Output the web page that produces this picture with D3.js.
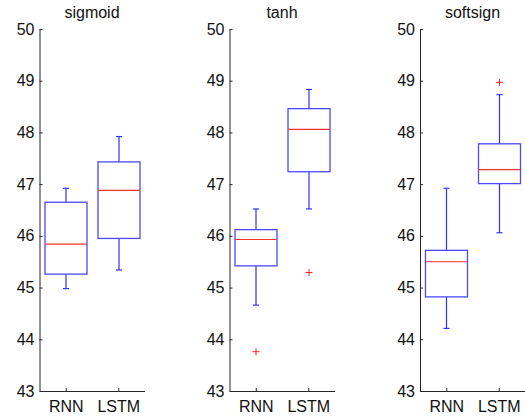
<!DOCTYPE html>
<html><head><meta charset="utf-8">
<script src="https://cdn.jsdelivr.net/npm/d3@7"></script>
<style>body{margin:0;background:#fff}svg{display:block}</style>
</head><body>
<script>
const titles = ["sigmoid", "tanh", "softsign"];
const categories = ["RNN", "LSTM"];
const yTicks = [43, 44, 45, 46, 47, 48, 49, 50];
// [whiskerLow, q1, median, q3, whiskerHigh] per panel, per category
const rnnStats = [
  [44.98, 45.26, 45.84, 46.65, 46.92],
  [44.66, 45.42, 45.93, 46.12, 46.52],
  [44.21, 44.82, 45.50, 45.72, 46.92]
];
const lstmStats = [
  [45.34, 45.95, 46.88, 47.43, 47.92],
  [46.52, 47.24, 48.06, 48.46, 48.83],
  [46.06, 47.01, 47.28, 47.78, 48.73]
];
const rnnOutliers = [[], [43.76], []];
const lstmOutliers = [[], [45.29], [48.97]];

const W = 525, H = 417;
const svg = d3.select("body").append("svg").attr("width", W).attr("height", H)
  .style("font-family", "'Liberation Sans', Arial, sans-serif");
const panelLeft = [39.5, 229.5, 420];
const pw = 105, plotTop = 29, plotBottom = 391;
const y = d3.scaleLinear().domain([43, 50]).range([plotBottom, plotTop]);
const axisColor = "#262626";

titles.forEach((t, i) => {
  const g = svg.append("g").attr("transform", `translate(${panelLeft[i]},0)`);
  const x = d3.scaleLinear().domain([0.5, 2.5]).range([0, pw]);
  const series = [
    {cat: categories[0], pos: 1, s: rnnStats[i], out: rnnOutliers[i]},
    {cat: categories[1], pos: 2, s: lstmStats[i], out: lstmOutliers[i]}
  ];
  const bw = x(1.4) - x(0.6);
  const cw = 6;
  series.forEach(d => {
    const cx = Math.round(x(d.pos)) + 0.5;
    const [wl, q1, md, q3, wh] = d.s;
    const bx = g.append("g");
    bx.append("line").attr("x1", cx).attr("x2", cx).attr("y1", y(q3)).attr("y2", y(wh))
      .attr("stroke", "#3030ff").attr("stroke-width", 1.2);
    bx.append("line").attr("x1", cx).attr("x2", cx).attr("y1", y(q1)).attr("y2", y(wl))
      .attr("stroke", "#3030ff").attr("stroke-width", 1.2);
    bx.append("line").attr("x1", cx - cw/2).attr("x2", cx + cw/2).attr("y1", y(wh)).attr("y2", y(wh))
      .attr("stroke", "#3030ff").attr("stroke-width", 1.2);
    bx.append("line").attr("x1", cx - cw/2).attr("x2", cx + cw/2).attr("y1", y(wl)).attr("y2", y(wl))
      .attr("stroke", "#3030ff").attr("stroke-width", 1.2);
    bx.append("rect").attr("x", cx - bw/2).attr("width", bw)
      .attr("y", y(q3)).attr("height", y(q1) - y(q3))
      .attr("fill", "none").attr("stroke", "#4a4aff").attr("stroke-width", 1.3);
    bx.append("line").attr("x1", cx - bw/2).attr("x2", cx + bw/2).attr("y1", y(md)).attr("y2", y(md))
      .attr("stroke", "#ff3030").attr("stroke-width", 1.1);
    d.out.forEach(o => {
      const oy = y(o);
      bx.append("path").attr("d", `M${cx-3.5},${oy}H${cx+3.5}M${cx},${oy-3.5}V${oy+3.5}`)
        .attr("stroke", "#ff2020").attr("stroke-width", 1);
    });
  });
  const ya = g.append("g").call(d3.axisLeft(y).tickValues(yTicks).tickFormat(d3.format("d"))
    .tickSizeInner(-3).tickSizeOuter(0).tickPadding(5));
  const xa = g.append("g").attr("transform", `translate(0,${plotBottom})`)
    .call(d3.axisBottom(x).tickValues([1, 2]).tickFormat((d) => categories[d - 1])
      .tickSizeInner(-3).tickSizeOuter(0).tickPadding(10));
  [ya, xa].forEach(a => {
    a.select(".domain").attr("stroke", axisColor);
    a.selectAll(".tick line").attr("stroke", axisColor);
    a.selectAll(".tick text").attr("fill", "#111").style("font-size", "16px");
    a.attr("font-family", null).attr("font-size", null);
  });
  g.append("text").attr("x", pw / 2).attr("y", 18).attr("text-anchor", "middle")
    .attr("fill", "#111").style("font-size", "16px").text(t);
});
</script>
</body></html>
